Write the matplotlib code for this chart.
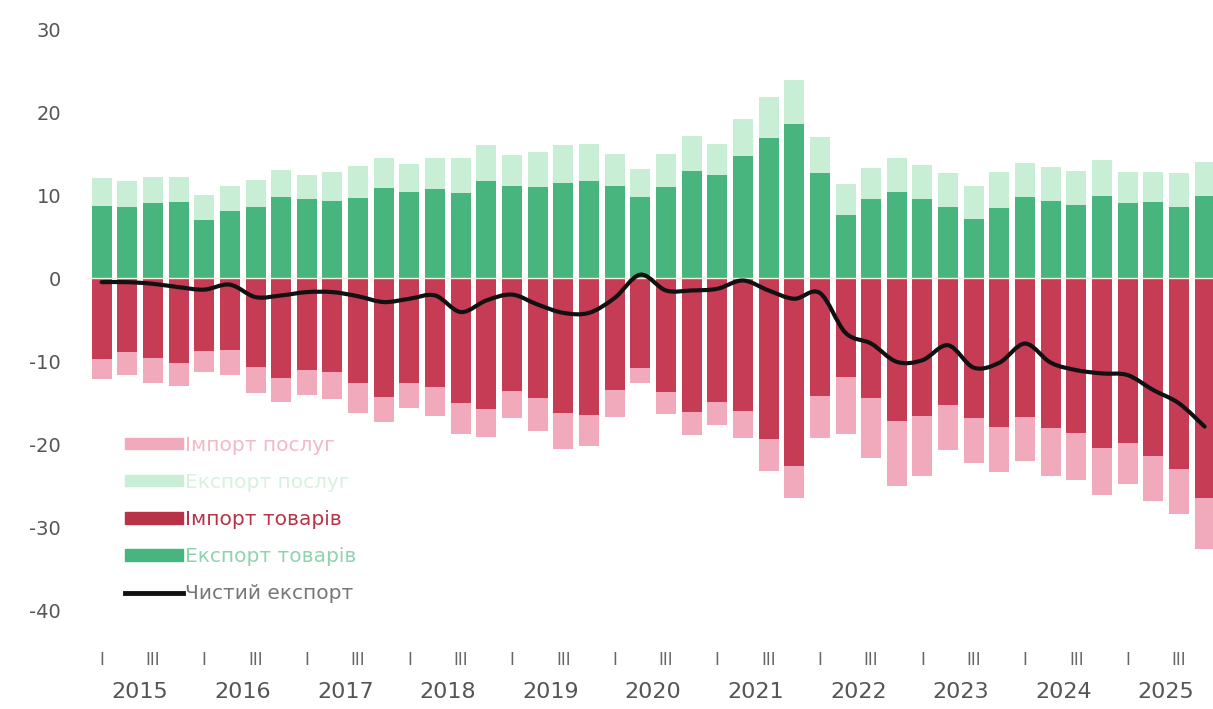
import matplotlib
matplotlib.use("Agg")
import matplotlib.pyplot as plt
import numpy as np
from matplotlib.path import Path
from matplotlib.patches import PathPatch, Patch
from matplotlib.lines import Line2D
from matplotlib.transforms import blended_transform_factory

years = list(range(2015, 2026))
quarter_marks = ["I", "III"]

goods_export = [8.7, 8.5, 9.0, 9.1, 7.0, 8.1, 8.5, 9.8, 9.5, 9.3, 9.6, 10.9, 10.4, 10.7,
                10.2, 11.7, 11.1, 11.0, 11.5, 11.7, 11.1, 9.8, 11.0, 12.9, 12.4, 14.7, 16.9, 18.5,
                12.6, 7.6, 9.5, 10.4, 9.5, 8.5, 7.1, 8.4, 9.7, 9.3, 8.8, 9.9, 9.0, 9.1, 8.6, 9.9]
services_export = [3.3, 3.2, 3.2, 3.1, 3.0, 3.0, 3.3, 3.2, 2.9, 3.5, 3.9, 3.6, 3.3, 3.7,
                   4.3, 4.3, 3.7, 4.2, 4.5, 4.5, 3.9, 3.3, 3.9, 4.2, 3.8, 4.5, 4.9, 5.3,
                   4.4, 3.7, 3.7, 4.0, 4.1, 4.1, 4.0, 4.4, 4.2, 4.1, 4.1, 4.3, 3.8, 3.7, 4.1, 4.1]
goods_import = [-9.8, -8.9, -9.6, -10.2, -8.8, -8.7, -10.7, -12.0, -11.1, -11.3, -12.7, -14.3, -12.6, -13.1,
                -15.0, -15.8, -13.6, -14.5, -16.3, -16.5, -13.5, -10.9, -13.7, -16.2, -14.9, -16.0, -19.4, -22.6,
                -14.2, -11.9, -14.5, -17.2, -16.6, -15.3, -16.9, -18.0, -16.7, -18.1, -18.7, -20.5, -19.9, -21.5,
                -23.0, -26.5]
services_import = [-2.4, -2.8, -3.1, -2.8, -2.5, -3.0, -3.2, -2.9, -3.0, -3.3, -3.6, -3.1, -3.1, -3.5,
                   -3.8, -3.4, -3.3, -3.9, -4.3, -3.7, -3.2, -1.8, -2.7, -2.7, -2.8, -3.3, -3.9, -3.9,
                   -5.1, -6.9, -7.2, -7.9, -7.2, -5.4, -5.4, -5.4, -5.4, -5.7, -5.6, -5.6, -4.9, -5.4,
                   -5.4, -6.1]
net_export = [-0.5, -0.5, -0.7, -1.1, -1.4, -0.8, -2.3, -2.1, -1.7, -1.7, -2.2, -2.9, -2.5, -2.1,
              -4.1, -2.7, -2.0, -3.2, -4.2, -4.2, -2.4, 0.4, -1.5, -1.5, -1.3, -0.3, -1.5, -2.5,
              -1.8, -6.6, -7.9, -10.1, -9.9, -8.1, -10.8, -10.2, -7.9, -10.2, -11.1, -11.5, -11.7, -13.5,
              -15.1, -17.9]

labels = ["Імпорт послуг", "Експорт послуг", "Імпорт товарів", "Експорт товарів", "Чистий експорт"]

c_goods_exp = "#47b57d"
c_serv_exp = "#c8eed5"
c_goods_imp = "#c63c55"
c_serv_imp = "#f0aabb"

plt.rcParams['font.family'] = ['DejaVu Sans']

fig = plt.figure(figsize=(12.13, 7.09), dpi=100)
ax = fig.add_axes([0.0711, 0.1162, 0.9294, 0.8546])

x = np.arange(len(goods_export))
w = 0.78
ax.bar(x, goods_export, w, color=c_goods_exp, zorder=2)
ax.bar(x, services_export, w, bottom=goods_export, color=c_serv_exp, zorder=2)
ax.bar(x, goods_import, w, color=c_goods_imp, zorder=2)
ax.bar(x, services_import, w, bottom=goods_import, color=c_serv_imp, zorder=2)
ax.axhline(0, color="#f4efe0", lw=1.0, zorder=3)

# smooth net export curve (Catmull-Rom through the data points)
pts = np.column_stack([x, net_export]).astype(float)
verts = [tuple(pts[0])]
codes = [Path.MOVETO]
n = len(pts)
for i in range(n - 1):
    p0 = pts[i - 1] if i > 0 else pts[i]
    p1 = pts[i]
    p2 = pts[i + 1]
    p3 = pts[i + 2] if i + 2 < n else pts[i + 1]
    c1 = p1 + (p2 - p0) / 6.0
    c2 = p2 - (p3 - p1) / 6.0
    verts += [tuple(c1), tuple(c2), tuple(p2)]
    codes += [Path.CURVE4] * 3
ax.add_patch(PathPatch(Path(verts, codes), facecolor="none", edgecolor="#111111",
                       lw=3.0, zorder=4, capstyle="round", joinstyle="round"))

ax.set_xlim(-0.6, 43.35)
ax.set_ylim(-42, 31)
ax.set_yticks(range(-40, 31, 10))
ax.set_yticklabels([str(v) for v in range(-40, 31, 10)], color="#555555", fontsize=14)
ax.tick_params(axis="y", length=0, pad=18)
ax.set_xticks([])
for s in ax.spines.values():
    s.set_visible(False)

tr = blended_transform_factory(ax.transData, fig.transFigure)
for k, yr in enumerate(years):
    base = 4 * k
    ax.text(base, 0.069, quarter_marks[0], transform=tr, ha="center", va="center",
            fontsize=12, color="#666666", family="DejaVu Sans Condensed")
    ax.text(base + 2, 0.069, quarter_marks[1], transform=tr, ha="center", va="center",
            fontsize=12, color="#666666", family="DejaVu Sans Condensed")
    ax.text(base + 1.5, 0.024, str(yr), transform=tr, ha="center", va="center",
            fontsize=16, color="#555555")

handles = [Patch(color=c_serv_imp), Patch(color=c_serv_exp), Patch(color="#b83347"),
           Patch(color=c_goods_exp), Line2D([0], [0], color="#111111", lw=3.5)]
leg = ax.legend(handles, labels, loc="upper left", bbox_to_anchor=(0.018, 0.345),
                frameon=False, fontsize=14.5, handlelength=2.9, handleheight=0.5,
                handletextpad=0.1, labelspacing=0.9,
                labelcolor=["#f2b9c6", "#d6f1de", "#b83347", "#8fd3ae", "#777777"])

fig.savefig("out.png", dpi=100, facecolor="white")
